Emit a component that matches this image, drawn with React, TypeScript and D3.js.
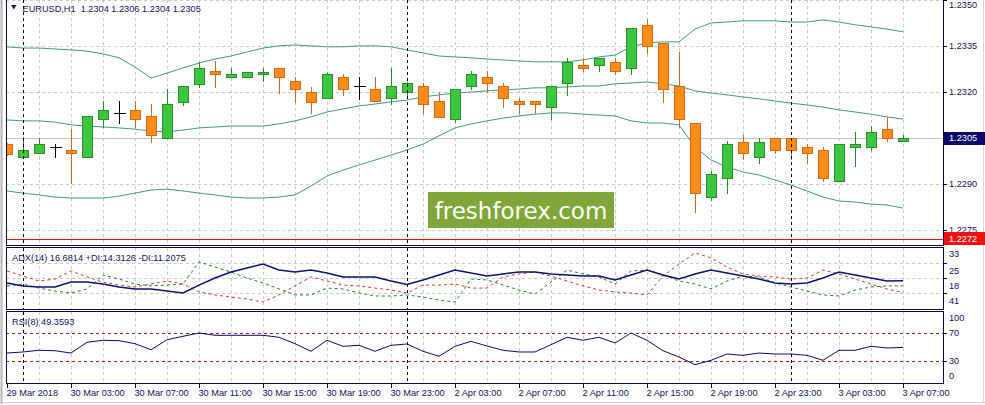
import * as d3 from "d3";

// EURUSD H1, 29 Mar 23:00 .. 3 Apr 07:00
const timeLabels = [
  "29 Mar 2018", "30 Mar 03:00", "30 Mar 07:00", "30 Mar 11:00", "30 Mar 15:00",
  "30 Mar 19:00", "30 Mar 23:00", "2 Apr 03:00", "2 Apr 07:00", "2 Apr 11:00",
  "2 Apr 15:00", "2 Apr 19:00", "2 Apr 23:00", "3 Apr 03:00", "3 Apr 07:00",
];
const daySeparators = [1, 25, 49];

const open = [
  1.2303, 1.22988, 1.23001, 1.23021, 1.23011, 1.22988, 1.23112, 1.23132, 1.23142, 1.23122,
  1.2305, 1.23168, 1.23226, 1.23269, 1.23249, 1.23249, 1.23259, 1.23279, 1.23236, 1.232,
  1.23181, 1.23249, 1.2322, 1.2321, 1.23181, 1.232, 1.2322, 1.23171, 1.23112, 1.2322,
  1.23249, 1.2322, 1.23171, 1.23171, 1.23151, 1.2323, 1.23289, 1.23289, 1.23298, 1.23279,
  1.23419, 1.2336, 1.2322, 1.23099, 1.22857, 1.22919, 1.23037, 1.22988, 1.2305, 1.2305,
  1.23021, 1.23011, 1.22909, 1.23021, 1.23021, 1.23079, 1.2304,
];
const high = [
  1.23034, 1.23053, 1.2305, 1.2303, 1.23079, 1.23122, 1.23171, 1.23171, 1.23171, 1.23161,
  1.2321, 1.2322, 1.23298, 1.23302, 1.23279, 1.23266, 1.23279, 1.23279, 1.23249, 1.23217,
  1.23262, 1.23259, 1.23249, 1.23249, 1.23279, 1.23233, 1.2323, 1.232, 1.2321, 1.23269,
  1.23269, 1.2323, 1.23181, 1.23171, 1.2322, 1.23311, 1.23311, 1.23311, 1.23311, 1.2341,
  1.23439, 1.2336, 1.23331, 1.23099, 1.22942, 1.2304, 1.2306, 1.2305, 1.2305, 1.2305,
  1.2303, 1.23021, 1.2303, 1.2307, 1.23089, 1.23119, 1.2306,
];
const low = [
  1.22994, 1.22985, 1.23001, 1.22988, 1.22903, 1.22988, 1.23086, 1.23099, 1.23086, 1.23037,
  1.2305, 1.23158, 1.23217, 1.23217, 1.23249, 1.23249, 1.23236, 1.23197, 1.23168, 1.23132,
  1.23181, 1.23191, 1.23177, 1.23171, 1.23161, 1.23181, 1.23132, 1.23119, 1.23102, 1.2321,
  1.232, 1.23151, 1.23132, 1.23132, 1.23112, 1.23191, 1.23269, 1.23269, 1.23259, 1.23259,
  1.23328, 1.23168, 1.23086, 1.22808, 1.22847, 1.2287, 1.22981, 1.22968, 1.23001, 1.22981,
  1.22968, 1.22909, 1.22909, 1.22958, 1.23011, 1.2304, 1.2304,
];
const close = [
  1.22998, 1.23011, 1.2303, 1.23021, 1.23001, 1.23122, 1.23142, 1.23132, 1.23112, 1.2306,
  1.23161, 1.2322, 1.23279, 1.23259, 1.23259, 1.23266, 1.23266, 1.23249, 1.2321, 1.23168,
  1.23259, 1.2321, 1.2322, 1.23171, 1.2322, 1.2323, 1.23161, 1.23119, 1.2321, 1.23259,
  1.2323, 1.23181, 1.23161, 1.23161, 1.2322, 1.23298, 1.23279, 1.23311, 1.23269, 1.2341,
  1.23351, 1.2321, 1.23112, 1.2287, 1.22932, 1.2303, 1.23001, 1.23037, 1.23011, 1.23011,
  1.23001, 1.22919, 1.2303, 1.2303, 1.2307, 1.2305, 1.2305,
];

const bbUpper = [
  1.23348, 1.23344, 1.23344, 1.23341, 1.23338, 1.23334, 1.23325, 1.23312, 1.23282, 1.23246,
  1.23262, 1.23279, 1.23295, 1.23308, 1.23318, 1.23331, 1.23344, 1.23351, 1.23354, 1.23351,
  1.23348, 1.23348, 1.23351, 1.23351, 1.23348, 1.23338, 1.23328, 1.23318, 1.23315, 1.23312,
  1.23308, 1.23305, 1.23302, 1.23299, 1.23299, 1.23299, 1.23305, 1.23315, 1.23321, 1.23348,
  1.23361, 1.23364, 1.23364, 1.23406, 1.23426, 1.23429, 1.23433, 1.23433, 1.23433, 1.23429,
  1.23429, 1.23436, 1.23429, 1.2342, 1.23413, 1.23406, 1.23397,
];
const bbMiddle = [
  1.23109, 1.23106, 1.23106, 1.23102, 1.23093, 1.23089, 1.23086, 1.23083, 1.23079, 1.23073,
  1.2307, 1.23076, 1.23083, 1.23086, 1.23089, 1.23089, 1.23089, 1.23096, 1.23106, 1.23119,
  1.23135, 1.23145, 1.23155, 1.23161, 1.23168, 1.23174, 1.23184, 1.23191, 1.23197, 1.232,
  1.23204, 1.23207, 1.2321, 1.23214, 1.23214, 1.23217, 1.2322, 1.2322, 1.23227, 1.2323,
  1.23233, 1.23227, 1.2322, 1.23204, 1.23197, 1.23191, 1.23184, 1.23178, 1.23171, 1.23164,
  1.23158, 1.23151, 1.23142, 1.23135, 1.23128, 1.23119, 1.23112,
];
const bbLower = [
  1.22877, 1.2287, 1.22864, 1.22857, 1.22854, 1.22854, 1.22854, 1.2286, 1.2287, 1.2288,
  1.22883, 1.22877, 1.2287, 1.22864, 1.22857, 1.22854, 1.22854, 1.22857, 1.22864, 1.22893,
  1.22926, 1.22945, 1.22962, 1.22978, 1.22994, 1.23011, 1.2303, 1.23057, 1.23083, 1.23096,
  1.23106, 1.23115, 1.23122, 1.23128, 1.23132, 1.23132, 1.23128, 1.23125, 1.23122, 1.23106,
  1.23099, 1.23099, 1.23093, 1.23021, 1.22978, 1.22955, 1.22939, 1.22929, 1.22913, 1.22896,
  1.22877, 1.22857, 1.22844, 1.22841, 1.22834, 1.22831, 1.22821,
];

const adx = [
  15.7, 14.3, 13.8, 13.8, 16.1, 16.1, 15.2, 13.8, 12.9, 12.9,
  11.9, 11.0, 14.7, 18.0, 20.8, 22.7, 24.5, 21.7, 20.8, 21.7,
  20.3, 18.5, 18.5, 18.5, 16.6, 15.0, 17.1, 19.4, 21.7, 20.3,
  18.9, 19.9, 20.8, 20.8, 19.9, 19.4, 18.9, 18.9, 17.1, 19.4,
  21.7, 19.4, 17.5, 19.9, 21.7, 20.3, 18.9, 17.5, 15.7, 15.2,
  15.7, 18.0, 20.8, 19.4, 18.0, 16.6, 16.68,
];
const plusDI = [
  14.3, 15.2, 13.3, 11.9, 11.0, 12.9, 19.4, 17.5, 15.2, 14.3,
  14.7, 15.2, 25.5, 23.1, 20.8, 18.0, 15.7, 12.9, 10.1, 10.1,
  13.3, 12.9, 11.0, 9.6, 9.6, 10.1, 9.1, 7.7, 6.8, 17.5,
  17.1, 14.7, 12.4, 10.5, 16.1, 21.7, 19.9, 18.5, 15.2, 21.3,
  21.7, 19.4, 16.6, 15.2, 12.9, 16.6, 18.9, 18.5, 15.7, 13.8,
  11.9, 10.1, 9.6, 12.4, 13.8, 14.3, 14.31,
];
const minusDI = [
  21.3, 18.9, 16.6, 17.5, 21.3, 18.5, 16.1, 14.7, 13.8, 15.2,
  16.6, 15.2, 11.5, 10.1, 9.1, 8.2, 6.8, 10.1, 14.3, 18.5,
  16.6, 14.7, 14.3, 13.3, 12.4, 11.0, 14.7, 14.7, 15.2, 13.3,
  13.3, 18.5, 19.9, 20.8, 18.9, 16.6, 14.3, 12.4, 11.5, 11.0,
  10.1, 18.9, 24.5, 29.7, 27.4, 23.1, 19.9, 18.9, 18.5, 17.5,
  18.0, 21.7, 19.9, 17.5, 15.2, 12.9, 11.21,
];
const rsi = [
  41.4, 42.9, 45.3, 44.7, 41.4, 56.7, 59.6, 59.0, 54.7, 46.1,
  60.4, 65.3, 70.0, 66.7, 66.7, 66.7, 66.7, 63.9, 54.7, 43.9,
  59.6, 51.0, 52.4, 43.9, 52.4, 54.3, 43.9, 36.7, 51.0, 58.1,
  51.4, 45.3, 42.9, 42.9, 53.3, 63.9, 59.6, 63.9, 55.7, 70.0,
  59.6, 44.7, 35.7, 24.7, 31.0, 40.0, 38.1, 41.4, 40.0, 40.0,
  38.1, 31.0, 45.3, 45.3, 51.0, 48.6, 49.36,
];

const priceTicks = [1.235, 1.2335, 1.232, 1.2305, 1.229, 1.2275];
const bidPrice = 1.2305;
const alertPrice = 1.2272;
const adxLevels = [33, 25, 18, 11];
const adxLevelText = ["33", "25", "18", "41"];
const rsiLevels = [100, 70, 30, 0];

const FONT = "'Liberation Sans', Arial, sans-serif";
const FS = 9.2;
const NAVY = "#14145a";
const FRAME = "#0a0a3c";
const GRID = "#c8c8c8";
const L = 6;
const R = 943;
const panels = {
  main: { top: -1, bottom: 245 },
  adx: { top: 247, bottom: 309 },
  rsi: { top: 311, bottom: 383 },
};

const App = () => {
  const n = close.length;
  const x = d3.scaleLinear().domain([0, n - 1]).range([7, 903]);
  const y = d3.scaleLinear().domain([1.2272, 1.235]).range([239, 0.3]);
  const ya = d3.scaleLinear().domain([11, 25]).range([293, 263]);
  const yr = d3.scaleLinear().domain([30, 70]).range([361, 333]);
  const idx = d3.range(n);
  const gridBars = idx.filter((i) => i % 2 === 0 && i > 0);
  const px = (v: number) => Math.round(v) + 0.5;

  const band = (arr: number[]) =>
    d3.line<number>().x((d, i) => x(i)).y((d) => y(d))(arr) || "";
  const adxLine = (arr: number[]) =>
    d3.line<number>().x((d, i) => x(i)).y((d) => ya(d))(arr) || "";
  const rsiLine =
    d3.line<number>().x((d, i) => x(i)).y((d) => yr(d))(rsi) || "";

  const vGrid = (top: number, bottom: number) =>
    gridBars.map((i) => (
      <line key={"vg" + i} x1={px(x(i))} x2={px(x(i))} y1={top} y2={bottom}
        stroke={GRID} strokeDasharray="3,3" />
    ));
  const separators = (top: number, bottom: number) =>
    daySeparators.map((i) => (
      <line key={"sep" + i} x1={px(x(i))} x2={px(x(i))} y1={top} y2={bottom}
        stroke="#000" strokeDasharray="3,3" />
    ));

  return (
    <div style={{ position: "absolute", left: 0, top: 0 }}>
      <svg width={985} height={405} style={{ display: "block", background: "#fff" }}
        fontFamily={FONT} fontSize={FS}>
        <defs>
          {Object.entries(panels).map(([k, p]) => (
            <clipPath id={"clip-" + k} key={k}>
              <rect x={L} y={p.top} width={R - L} height={p.bottom - p.top} />
            </clipPath>
          ))}
        </defs>

        {/* window border */}
        <line x1={1.5} x2={1.5} y1={0} y2={404} stroke="#b4b4b4" strokeWidth={2} />
        <line x1={0} x2={985} y1={402.5} y2={402.5} stroke="#d0d0d0" />
        <line x1={983.5} x2={983.5} y1={0} y2={403} stroke="#d8d8d8" />

        {/* main price panel */}
        <g clipPath="url(#clip-main)" shapeRendering="crispEdges">
          {vGrid(0, 245)}
          {priceTicks.filter((p) => p !== bidPrice).map((p) => (
            <line key={"hg" + p} x1={L} x2={R} y1={px(y(p))} y2={px(y(p))}
              stroke={GRID} strokeDasharray="3,3" />
          ))}
          <line x1={L} x2={R} y1={px(y(bidPrice))} y2={px(y(bidPrice))} stroke="#c4c4c4" />
          <line x1={L} x2={R} y1={px(y(alertPrice))} y2={px(y(alertPrice))} stroke="#e01010" />
        </g>
        <g clipPath="url(#clip-main)" fill="none" stroke="#3e9a7e" strokeWidth={1}>
          <path d={band(bbUpper)} />
          <path d={band(bbMiddle)} />
          <path d={band(bbLower)} />
        </g>
        <g clipPath="url(#clip-main)" shapeRendering="crispEdges">
          {idx.map((i) => {
            const o = open[i], c = close[i];
            const cx = px(x(i));
            const bull = c > o, bear = c < o;
            const edge = bull ? "#2c8c2c" : bear ? "#d2691e" : "#000";
            const fill = bull ? "#3cc83c" : "#ff8c17";
            const yTop = Math.round(y(Math.max(o, c)));
            const yBot = Math.round(y(Math.min(o, c)));
            return (
              <g key={"c" + i}>
                <line x1={cx} x2={cx} y1={Math.round(y(high[i]))} y2={Math.round(y(low[i])) + 1}
                  stroke={edge} />
                {bull || bear ? (
                  <rect x={cx - 5} y={yTop + 0.5} width={10} height={Math.max(yBot - yTop, 2)}
                    fill={fill} stroke={edge} />
                ) : (
                  <line x1={cx - 6} x2={cx + 6} y1={yTop + 0.5} y2={yTop + 0.5} stroke="#000" />
                )}
              </g>
            );
          })}
        </g>
        <g shapeRendering="crispEdges">{separators(0, 245)}</g>

        {/* watermark */}
        <rect x={428} y={192} width={186} height={36} fill="#80a63a" />
        <text x={521} y={218.5} textAnchor="middle" fill="#fff" fontSize={23}
          fontFamily="'DejaVu Sans', Verdana, sans-serif">freshforex.com</text>

        {/* header */}
        <path d="M11,5 L16.5,5 L13.75,9.5 Z" fill={NAVY} />
        <text x={22.5} y={11.5} fill={NAVY}>
          {"EURUSD,H1\u00a0\u00a01.2304 1.2306 1.2304 1.2305"}
        </text>

        {/* ADX panel */}
        <g shapeRendering="crispEdges">
          {vGrid(248, 309)}
          {adxLevels.slice(1).map((v) => (
            <line key={"ag" + v} x1={L} x2={R} y1={px(ya(v))} y2={px(ya(v))}
              stroke={GRID} strokeDasharray="3,3" />
          ))}
        </g>
        <g clipPath="url(#clip-adx)" fill="none">
          <path d={adxLine(plusDI)} stroke="#2a7f2a" strokeDasharray="3,3" />
          <path d={adxLine(minusDI)} stroke="#cc3b2f" strokeDasharray="3,3" />
          <path d={adxLine(adx)} stroke="#10106e" strokeWidth={1.5} />
        </g>
        <g shapeRendering="crispEdges">{separators(248, 309)}</g>
        <text x={12} y={260.5} fill={NAVY}>ADX(14) 16.6814 +DI:14.3126 -DI:11.2075</text>

        {/* RSI panel */}
        <g shapeRendering="crispEdges">
          {vGrid(312, 383)}
          {rsiLevels.slice(1, 3).map((v) => (
            <line key={"rl" + v} x1={L} x2={R} y1={px(yr(v))} y2={px(yr(v))}
              stroke="#b01e1e" strokeDasharray="3,3" />
          ))}
        </g>
        <g clipPath="url(#clip-rsi)" fill="none">
          <path d={rsiLine} stroke="#0c0c66" strokeWidth={1} />
        </g>
        <g shapeRendering="crispEdges">{separators(312, 383)}</g>
        <text x={12} y={324.5} fill={NAVY}>RSI(8) 49.3593</text>

        {/* frames */}
        <g fill="none" stroke={FRAME} shapeRendering="crispEdges">
          {Object.values(panels).map((p, k) => (
            <rect key={"f" + k} x={L + 0.5} y={p.top + 0.5} width={R - L}
              height={p.bottom - p.top} />
          ))}
        </g>

        {/* price axis */}
        <g fill={NAVY} shapeRendering="crispEdges">
          {priceTicks.map((p) => (
            <g key={"pt" + p}>
              <line x1={R} x2={R + 4} y1={px(y(p))} y2={px(y(p))} stroke={FRAME} />
              <text x={949} y={Math.max(y(p), 4.5)} dy="0.35em">{d3.format(".4f")(p)}</text>
            </g>
          ))}
          <rect x={944} y={131.5} width={41} height={13} fill="#08086a" />
          <text x={949} y={y(bidPrice)} dy="0.35em" fill="#fff">{d3.format(".4f")(bidPrice)}</text>
          <rect x={944} y={232} width={41} height={13} fill="#ea1212" />
          <text x={949} y={y(alertPrice)} dy="0.35em" fill="#fff">{d3.format(".4f")(alertPrice)}</text>

          {adxLevels.map((v, k) => (
            <g key={"al" + v}>
              {k > 0 && <line x1={R} x2={R + 4} y1={px(ya(v))} y2={px(ya(v))} stroke={FRAME} />}
              <text x={949} y={ya(v) + 8} dy="0.35em">{adxLevelText[k]}</text>
            </g>
          ))}
          {rsiLevels.map((v) => (
            <g key={"rv" + v}>
              {v > 0 && v < 100 && (
                <line x1={R} x2={R + 4} y1={px(yr(v))} y2={px(yr(v))} stroke={FRAME} />
              )}
              <text x={949} y={Math.min(Math.max(yr(v), 318), 376)} dy="0.35em">{v}</text>
            </g>
          ))}
        </g>

        {/* time axis */}
        <g fill={NAVY} shapeRendering="crispEdges">
          {timeLabels.map((t, k) => {
            const bx = px(x(k * 4));
            return (
              <g key={"t" + k}>
                <line x1={bx} x2={bx} y1={383} y2={388} stroke={FRAME} />
                <text x={bx - 1} y={395.5}>{t}</text>
              </g>
            );
          })}
        </g>
      </svg>
    </div>
  );
};

export default App;
